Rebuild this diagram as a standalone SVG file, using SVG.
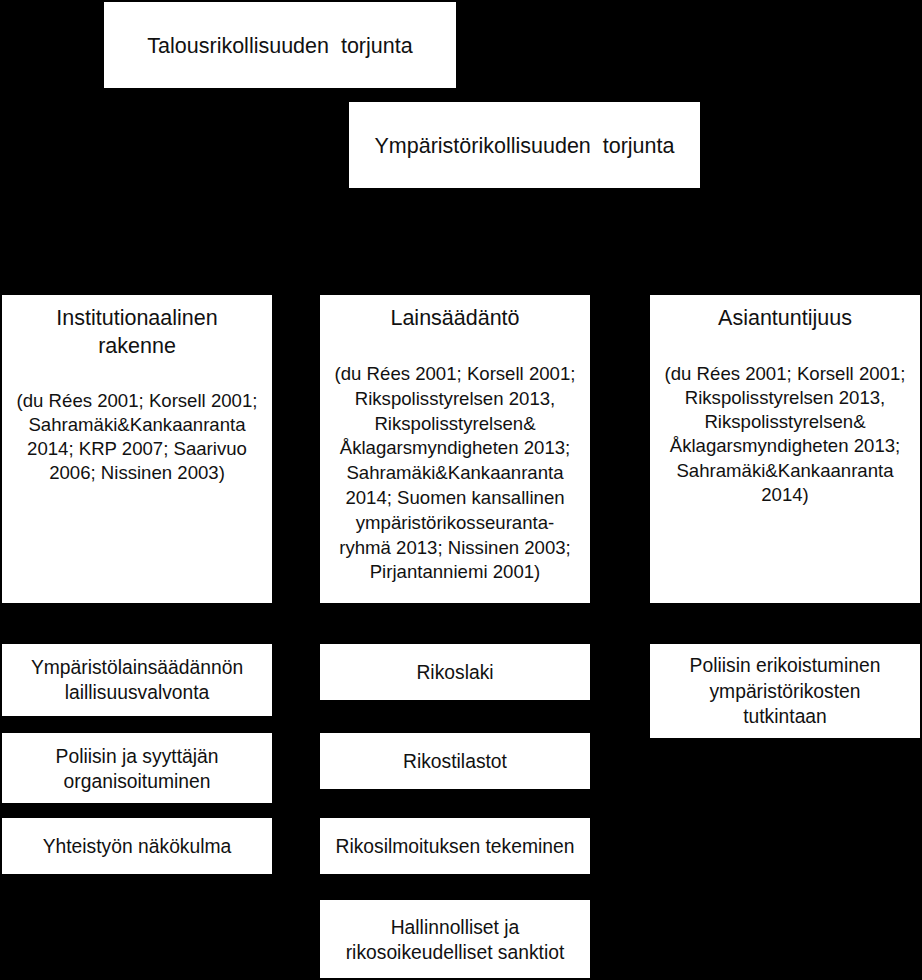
<svg xmlns="http://www.w3.org/2000/svg" width="922" height="980" viewBox="0 0 922 980">
<style>
.box{fill:#ffffff;stroke:none}
text{font-family:"Liberation Sans",Arial,sans-serif;fill:#111;text-anchor:middle}
.h{font-size:21.5px}
.c{font-size:18.6px}
.b{font-size:19.3px}
</style>
<rect x="0" y="0" width="922" height="980" fill="#000"/>
<g id="connectors"></g>
<g id="talous">
<rect class="box" x="104" y="2" width="352" height="86"/>
<text class="h" x="280" y="53" xml:space="preserve">Talousrikollisuuden  torjunta</text>
</g>
<g id="ymparisto">
<rect class="box" x="349" y="102" width="351" height="86"/>
<text class="h" x="524.5" y="153" xml:space="preserve">Ympäristörikollisuuden  torjunta</text>
</g>
<g id="institutionaalinen">
<rect class="box" x="2" y="295" width="270" height="308"/>
<text class="h" x="137" y="325">Institutionaalinen</text>
<text class="h" x="137" y="353">rakenne</text>
<text class="c" x="137" y="407">(du Rées 2001; Korsell 2001;</text>
<text class="c" x="137" y="431">Sahramäki&amp;Kankaanranta</text>
<text class="c" x="137" y="455">2014; KRP 2007; Saarivuo</text>
<text class="c" x="137" y="479">2006; Nissinen 2003)</text>
</g>
<g id="lainsaadanto">
<rect class="box" x="320" y="295" width="270" height="308"/>
<text class="h" x="455" y="325">Lainsäädäntö</text>
<text class="c" x="455" y="380">(du Rées 2001; Korsell 2001;</text>
<text class="c" x="455" y="404.8">Rikspolisstyrelsen 2013,</text>
<text class="c" x="455" y="429.6">Rikspolisstyrelsen&amp;</text>
<text class="c" x="455" y="454.4">Åklagarsmyndigheten 2013;</text>
<text class="c" x="455" y="479.2">Sahramäki&amp;Kankaanranta</text>
<text class="c" x="455" y="504">2014; Suomen kansallinen</text>
<text class="c" x="455" y="528.8">ympäristörikosseuranta-</text>
<text class="c" x="455" y="553.6">ryhmä 2013; Nissinen 2003;</text>
<text class="c" x="455" y="578.4">Pirjantanniemi 2001)</text>
</g>
<g id="asiantuntijuus">
<rect class="box" x="650" y="295" width="270" height="308"/>
<text class="h" x="785" y="325">Asiantuntijuus</text>
<text class="c" x="785" y="380">(du Rées 2001; Korsell 2001;</text>
<text class="c" x="785" y="404">Rikspolisstyrelsen 2013,</text>
<text class="c" x="785" y="428">Rikspolisstyrelsen&amp;</text>
<text class="c" x="785" y="452">Åklagarsmyndigheten 2013;</text>
<text class="c" x="785" y="477">Sahramäki&amp;Kankaanranta</text>
<text class="c" x="785" y="501">2014)</text>
</g>
<g id="laillisuusvalvonta">
<rect class="box" x="2" y="644" width="270" height="72"/>
<text class="b" x="137" y="674">Ympäristölainsäädännön</text>
<text class="b" x="137" y="699">laillisuusvalvonta</text>
</g>
<g id="organisoituminen">
<rect class="box" x="2" y="733" width="270" height="70"/>
<text class="b" x="137" y="763">Poliisin ja syyttäjän</text>
<text class="b" x="137" y="788">organisoituminen</text>
</g>
<g id="yhteistyo">
<rect class="box" x="2" y="818" width="270" height="56"/>
<text class="b" x="137" y="853">Yhteistyön näkökulma</text>
</g>
<g id="rikoslaki">
<rect class="box" x="320" y="644" width="270" height="56"/>
<text class="b" x="455" y="679">Rikoslaki</text>
</g>
<g id="rikostilastot">
<rect class="box" x="320" y="733" width="270" height="56"/>
<text class="b" x="455" y="768">Rikostilastot</text>
</g>
<g id="rikosilmoitus">
<rect class="box" x="320" y="818" width="270" height="56"/>
<text class="b" x="455" y="853">Rikosilmoituksen tekeminen</text>
</g>
<g id="sanktiot">
<rect class="box" x="320" y="900" width="270" height="78"/>
<text class="b" x="455" y="934">Hallinnolliset ja</text>
<text class="b" x="455" y="959">rikosoikeudelliset sanktiot</text>
</g>
<g id="erikoistuminen">
<rect class="box" x="650" y="644" width="270" height="94"/>
<text class="b" x="785" y="672">Poliisin erikoistuminen</text>
<text class="b" x="785" y="698">ympäristörikosten</text>
<text class="b" x="785" y="723">tutkintaan</text>
</g>
</svg>
